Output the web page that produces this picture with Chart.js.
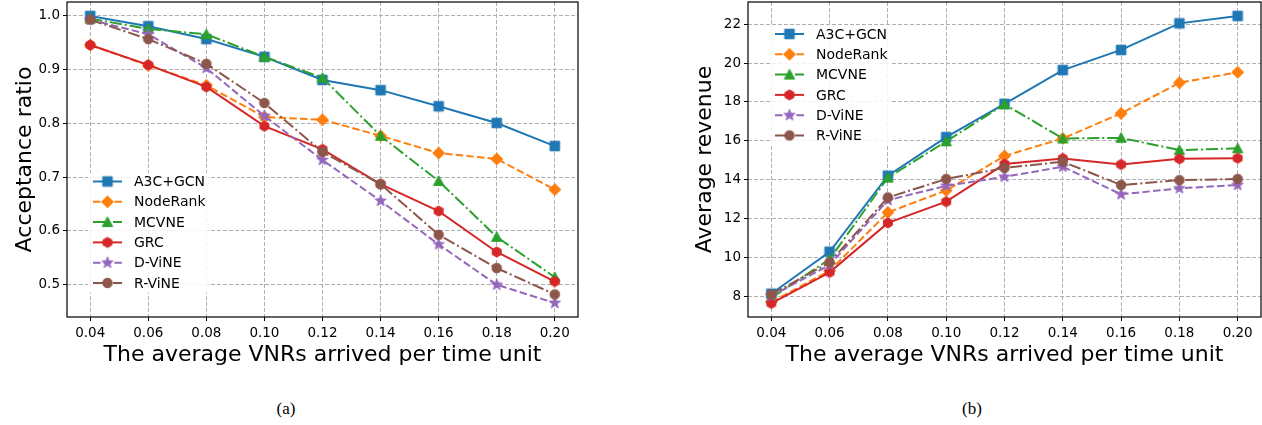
<!DOCTYPE html>
<html>
<head>
<meta charset="utf-8">
<script src="https://cdn.jsdelivr.net/npm/chart.js@4.4.1/dist/chart.umd.min.js"></script>
<style>
  body { margin: 0; background: #fff; width: 1262px; height: 425px; position: relative; overflow: hidden; }
  #accChart { position: absolute; left: 0; top: 0; }
  #revChart { position: absolute; left: 680px; top: 0; }
  .cap { position: absolute; top: 400px; width: 100px; text-align: center; font-family: "Liberation Serif", serif; font-size: 17px; line-height: 17px; color: #000; }
</style>
</head>
<body>
<canvas id="accChart" width="600" height="380"></canvas>
<canvas id="revChart" width="582" height="380"></canvas>
<div class="cap" style="left:236px">(a)</div>
<div class="cap" style="left:922px">(b)</div>
<script>
// x values: average VNRs arrived per time unit
const arrivalRates = [0.04, 0.06, 0.08, 0.10, 0.12, 0.14, 0.16, 0.18, 0.20];
const seriesNames = ['A3C+GCN', 'NodeRank', 'MCVNE', 'GRC', 'D-ViNE', 'R-ViNE'];

// (a) acceptance ratio
const accA3C      = [1.000, 0.981, 0.957, 0.924, 0.881, 0.862, 0.832, 0.801, 0.758];
const accNodeRank = [0.946, 0.908, 0.871, 0.812, 0.807, 0.777, 0.745, 0.734, 0.677];
const accMCVNE    = [0.995, 0.976, 0.966, 0.924, 0.885, 0.777, 0.693, 0.589, 0.514];
const accGRC      = [0.946, 0.909, 0.868, 0.795, 0.752, 0.687, 0.637, 0.561, 0.506];
const accDViNE    = [0.993, 0.966, 0.903, 0.814, 0.732, 0.656, 0.575, 0.500, 0.466];
const accRViNE    = [0.993, 0.957, 0.911, 0.838, 0.747, 0.687, 0.593, 0.531, 0.482];

// (b) average revenue
const revA3C      = [8.12, 10.28, 14.20, 16.19, 17.90, 19.64, 20.68, 22.05, 22.43];
const revNodeRank = [7.70, 9.30, 12.31, 13.44, 15.22, 16.12, 17.41, 18.99, 19.53];
const revMCVNE    = [7.90, 9.90, 14.10, 15.97, 17.88, 16.12, 16.15, 15.52, 15.61];
const revGRC      = [7.62, 9.22, 11.77, 12.86, 14.80, 15.09, 14.78, 15.07, 15.10];
const revDViNE    = [8.00, 9.60, 12.94, 13.68, 14.14, 14.66, 13.24, 13.55, 13.72];
const revRViNE    = [8.08, 9.73, 13.08, 14.03, 14.60, 14.92, 13.72, 13.97, 14.03];

// tick labels
const xTicks = [0.04, 0.06, 0.08, 0.10, 0.12, 0.14, 0.16, 0.18, 0.20];
const accTicks = [0.5, 0.6, 0.7, 0.8, 0.9, 1.0];
const revTicks = [8, 10, 12, 14, 16, 18, 20, 22];

// matplotlib-like styles
const colors = ['#1f77b4', '#ff7f0e', '#2ca02c', '#d62728', '#9467bd', '#8c564b'];
const dashes = [[], [7.5, 3.2], [12, 3, 2, 3], [], [7.5, 3.2], [12, 3, 2, 3]];
const shapes = ['square', 'diamond', 'triangle', 'hexagon', 'star', 'circle'];

function makeMarker(shape, color) {
  const s = 16, c = document.createElement('canvas');
  c.width = s; c.height = s;
  const g = c.getContext('2d'), m = s / 2;
  g.fillStyle = color; g.strokeStyle = color; g.lineWidth = 1;
  g.beginPath();
  if (shape === 'square') {
    g.rect(m - 4.8, m - 4.8, 9.6, 9.6);
  } else if (shape === 'diamond') {
    g.moveTo(m, m - 6); g.lineTo(m + 6, m); g.lineTo(m, m + 6); g.lineTo(m - 6, m); g.closePath();
  } else if (shape === 'triangle') {
    g.moveTo(m, m - 5.2); g.lineTo(m + 5.2, m + 4.4); g.lineTo(m - 5.2, m + 4.4); g.closePath();
  } else if (shape === 'hexagon') {
    for (let i = 0; i < 6; i++) {
      const a = -Math.PI / 2 + i * Math.PI / 3;
      g.lineTo(m + 5.1 * Math.cos(a), m + 5.1 * Math.sin(a));
    }
    g.closePath();
  } else if (shape === 'star') {
    for (let i = 0; i < 10; i++) {
      const a = -Math.PI / 2 + i * Math.PI / 5, r = i % 2 ? 2.4 : 5.8;
      g.lineTo(m + r * Math.cos(a), m + r * Math.sin(a));
    }
    g.closePath();
  } else {
    g.arc(m, m, 4.8, 0, Math.PI * 2);
  }
  g.fill(); g.stroke();
  return c;
}
const markers = shapes.map((s, i) => makeMarker(s, colors[i]));

// frame around plot area (matplotlib spines)
const frame = {
  id: 'frame',
  afterDraw(chart) {
    const { ctx, chartArea: a } = chart;
    ctx.save();
    ctx.strokeStyle = '#000';
    ctx.lineWidth = 1.2;
    ctx.strokeRect(a.left, a.top, a.right - a.left, a.bottom - a.top);
    ctx.restore();
  }
};

// legend drawn inside the plot area
const insideLegend = {
  id: 'insideLegend',
  afterDraw(chart, args, opts) {
    const { ctx, chartArea: a } = chart;
    const rowH = 20.3, n = chart.data.datasets.length;
    const x0 = a.left + opts.dx;
    const y0 = opts.fromBottom ? a.bottom - opts.dy - (n - 1) * rowH : a.top + opts.dy;
    ctx.save();
    ctx.font = '14px "DejaVu Sans"';
    let maxW = 0;
    chart.data.datasets.forEach(d => { maxW = Math.max(maxW, ctx.measureText(d.label).width); });
    ctx.fillStyle = 'rgba(255,255,255,0.85)';
    ctx.fillRect(x0 - 5, y0 - 9, 41 + maxW + 8, (n - 1) * rowH + 19);
    chart.data.datasets.forEach((d, i) => {
      const y = y0 + i * rowH;
      ctx.strokeStyle = d.borderColor;
      ctx.lineWidth = 2;
      ctx.setLineDash(d.borderDash);
      ctx.beginPath(); ctx.moveTo(x0, y); ctx.lineTo(x0 + 29, y); ctx.stroke();
      ctx.setLineDash([]);
      ctx.drawImage(d.pointStyle, x0 + 14.5 - 8, y - 8);
      ctx.fillStyle = '#000';
      ctx.textBaseline = 'middle';
      ctx.fillText(d.label, x0 + 41, y + 1);
    });
    ctx.restore();
  }
};

function makeDatasets(seriesValues) {
  return seriesValues.map((vals, i) => ({
    label: seriesNames[i],
    data: arrivalRates.map((x, j) => ({ x: x, y: vals[j] })),
    borderColor: colors[i],
    backgroundColor: colors[i],
    borderWidth: 2,
    borderDash: dashes[i],
    pointStyle: markers[i],
    pointRadius: 5,
    tension: 0,
    clip: 8,
    order: seriesValues.length - i
  }));
}

const tickFont = { family: 'DejaVu Sans', size: 13.5 };
const titleFont = { family: 'DejaVu Sans', size: 22 };

function makeChart(id, seriesValues, yTicks, yMin, yMax, yTitle, yFmt, padRight, yWidth, legendOpts) {
  new Chart(document.getElementById(id), {
    type: 'line',
    data: { datasets: makeDatasets(seriesValues) },
    options: {
      responsive: false,
      animation: false,
      events: [],
      layout: { autoPadding: false, padding: { top: 2, right: padRight, left: 0, bottom: 0 } },
      scales: {
        x: {
          type: 'linear',
          min: 0.032, max: 0.208,
          afterBuildTicks: s => { s.ticks = xTicks.map(v => ({ value: v })); },
          afterFit: s => { s.height = 63; s.paddingLeft = 0; s.paddingRight = 0; },
          ticks: { font: tickFont, color: '#000', padding: 4, maxRotation: 0, autoSkip: false,
                   callback: v => v.toFixed(2) },
          grid: { color: '#b0b0b0', lineWidth: 1, tickColor: '#000', tickLength: 4, tickWidth: 1, tickBorderDash: [] },
          border: { display: false, dash: [4, 2] },
          title: { display: true, text: 'The average VNRs arrived per time unit', font: titleFont,
                   color: '#000', padding: { top: 0, bottom: 12 } }
        },
        y: {
          min: yMin, max: yMax,
          afterBuildTicks: s => { s.ticks = yTicks.map(v => ({ value: v })); },
          afterFit: s => { s.width = yWidth; s.paddingTop = 0; s.paddingBottom = 0; },
          ticks: { font: tickFont, color: '#000', padding: 3, autoSkip: false, callback: yFmt },
          grid: { color: '#b0b0b0', lineWidth: 1, tickColor: '#000', tickLength: 4, tickWidth: 1, tickBorderDash: [] },
          border: { display: false, dash: [4, 2] },
          title: { display: true, text: yTitle, font: titleFont, color: '#000', padding: { top: 12, bottom: 0 } }
        }
      },
      plugins: {
        legend: { display: false },
        tooltip: { enabled: false },
        insideLegend: legendOpts
      }
    },
    plugins: [frame, insideLegend]
  });
}

makeChart('accChart',
  [accA3C, accNodeRank, accMCVNE, accGRC, accDViNE, accRViNE],
  accTicks, 0.44, 1.026, 'Acceptance ratio', v => v.toFixed(1), 22, 67,
  { dx: 26, dy: 34, fromBottom: true });

makeChart('revChart',
  [revA3C, revNodeRank, revMCVNE, revGRC, revDViNE, revRViNE],
  revTicks, 6.92, 23.15, 'Average revenue', v => String(v), 1, 68,
  { dx: 27, dy: 32, fromBottom: false });
</script>
</body>
</html>
